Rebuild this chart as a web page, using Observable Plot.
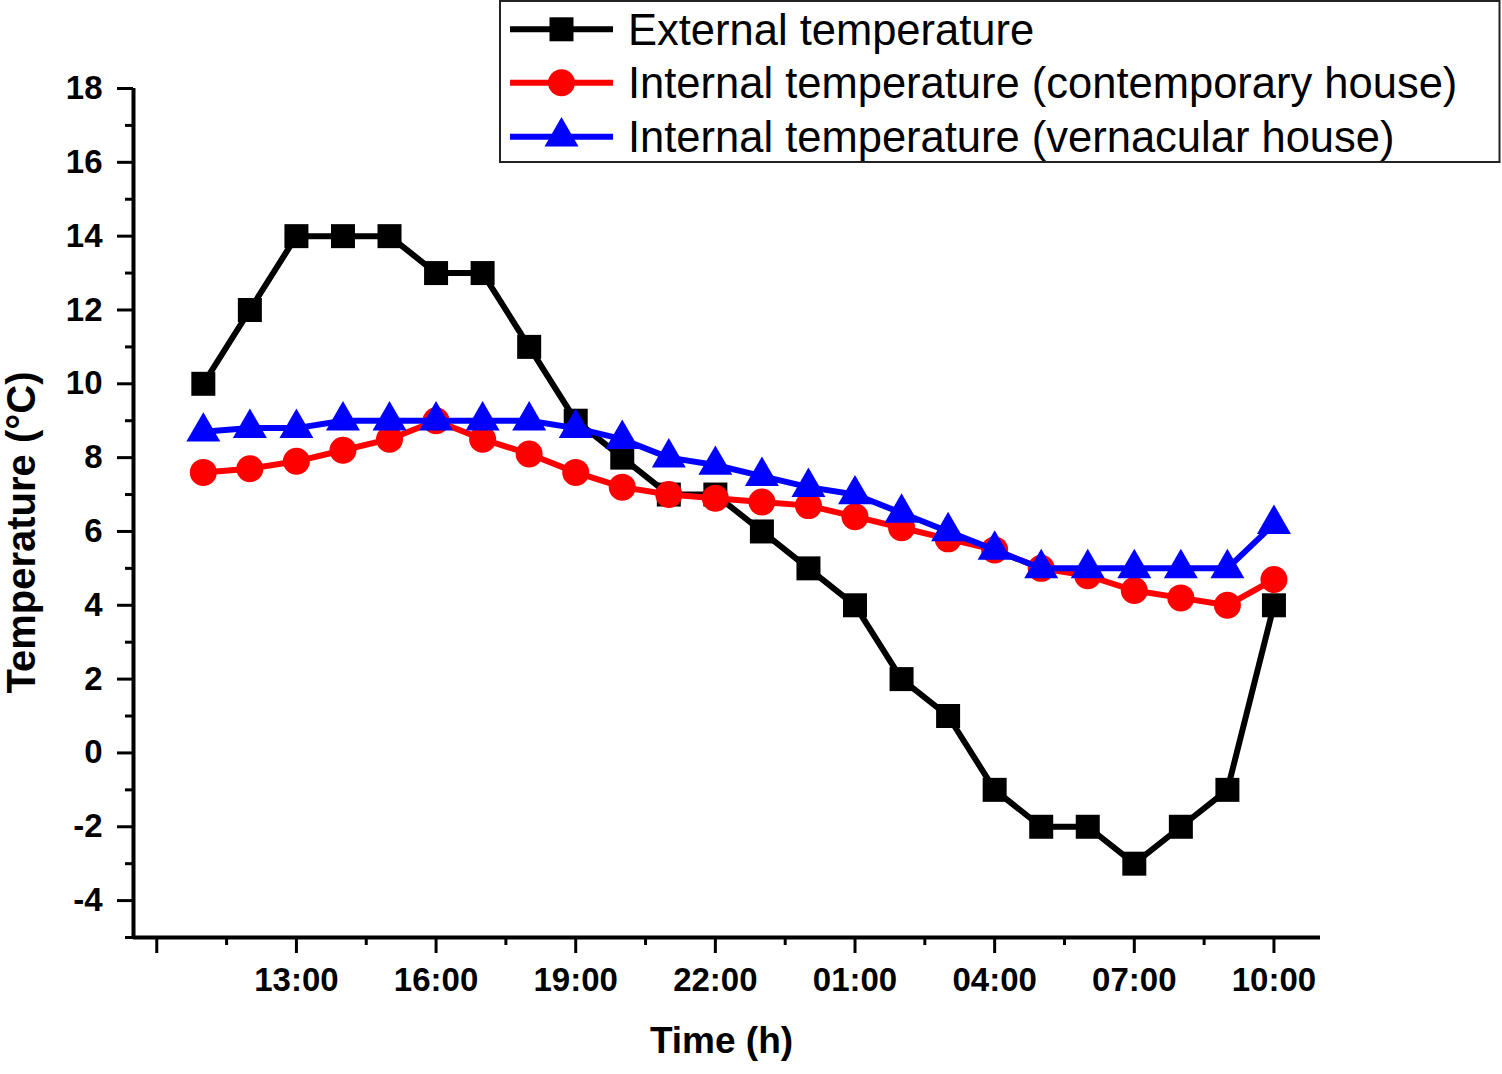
<!DOCTYPE html>
<html>
<head>
<meta charset="utf-8">
<script src="https://cdn.jsdelivr.net/npm/d3@7"></script>
<script src="https://cdn.jsdelivr.net/npm/@observablehq/plot@0.6"></script>
<style>
  html, body { margin: 0; padding: 0; background: #fff; }
  #chart { position: relative; width: 1502px; height: 1074px; }
</style>
</head>
<body>
<div id="chart"></div>
<script>
// ---- data ----
const times = ["11:00","12:00","13:00","14:00","15:00","16:00","17:00","18:00","19:00","20:00","21:00","22:00",
               "23:00","00:00","01:00","02:00","03:00","04:00","05:00","06:00","07:00","08:00","09:00","10:00"];
const external     = [10, 12, 14, 14, 14, 13, 13, 11, 9, 8, 7, 7, 6, 5, 4, 2, 1, -1, -2, -2, -3, -2, -1, 4];
const contemporary = [7.6, 7.7, 7.9, 8.2, 8.5, 9.0, 8.5, 8.1, 7.6, 7.2, 7.0, 6.9, 6.8, 6.7, 6.4, 6.1, 5.8, 5.5, 5.0, 4.8, 4.4, 4.2, 4.0, 4.7];
const vernacular   = [8.7, 8.8, 8.8, 9.0, 9.0, 9.0, 9.0, 9.0, 8.8, 8.5, 8.0, 7.8, 7.5, 7.2, 7.0, 6.5, 6.0, 5.5, 5.0, 5.0, 5.0, 5.0, 5.0, 6.2];
const seriesNames  = ["External temperature", "Internal temperature (contemporary house)", "Internal temperature (vernacular house)"];
const xTickLabels  = ["13:00","16:00","19:00","22:00","01:00","04:00","07:00","10:00"];
const yTickValues  = [-4, -2, 0, 2, 4, 6, 8, 10, 12, 14, 16, 18];

// ---- derived tables ----
const idx = times.map((_, i) => i);
const extData = idx.map(i => ({x: i, y: external[i]}));
const conData = idx.map(i => ({x: i, y: contemporary[i]}));
const verData = idx.map(i => ({x: i, y: vernacular[i]}));
const xMajor = [-1].concat(xTickLabels.map(l => times.indexOf(l)));
const xMinor = xMajor.slice(0, -1).map(v => v + 1.5);
const yMinor = yTickValues.map(v => v - 1);
const labelOf = new Map(xTickLabels.map(l => [times.indexOf(l), l]));

const LW = 6;
const font = "'Liberation Sans', Arial, sans-serif";

const plot = Plot.plot({
  width: 1502,
  height: 1074,
  marginLeft: 133,
  marginRight: 182,
  marginTop: 88,
  marginBottom: 137,
  style: {fontFamily: font, color: "#000", background: "#fff", overflow: "visible"},
  x: {domain: [-1.5, 24]},
  y: {domain: [-5, 18]},
  marks: [
    Plot.line(extData, {x: "x", y: "y", stroke: "#000", strokeWidth: LW}),
    Plot.dot(extData, {x: "x", y: "y", symbol: "square", r: 13.54, fill: "#000"}),
    Plot.line(conData, {x: "x", y: "y", stroke: "#FF0000", strokeWidth: LW}),
    Plot.dot(conData, {x: "x", y: "y", symbol: "circle", r: 13.5, fill: "#FF0000"}),
    Plot.line(verData, {x: "x", y: "y", stroke: "#0000FF", strokeWidth: LW}),
    Plot.dot(verData, {x: "x", y: "y", symbol: "triangle", r: 12.62, fill: "#0000FF"}),
    // axis lines
    Plot.ruleX([-1.5], {stroke: "#000", strokeWidth: 4}),
    Plot.ruleY([-5], {stroke: "#000", strokeWidth: 4}),
    // y axis
    Plot.axisY(yTickValues, {tickSize: 16, tickPadding: 15, fontSize: 33, fontWeight: "bold",
      strokeWidth: 3, label: null, tickFormat: d => String(d)}),
    Plot.axisY(yMinor, {tickSize: 8, strokeWidth: 3, tickFormat: () => "", label: null}),
    // x axis
    Plot.axisX(xMajor, {tickSize: 16, tickPadding: 14, fontSize: 33, fontWeight: "bold",
      strokeWidth: 3, label: null, tickFormat: d => labelOf.get(d) ?? ""}),
    Plot.axisX(xMinor, {tickSize: 8, strokeWidth: 3, tickFormat: () => "", label: null}),
    // axis titles
    Plot.text(["Time (h)"], {text: d => d, frameAnchor: "bottom", dx: -5.5, dy: 115, lineAnchor: "bottom",
      textAnchor: "middle", fontSize: 37, fontWeight: "bold", fill: "#000"}),
    Plot.text(["Temperature (°C)"], {text: d => d, frameAnchor: "left", dx: -98.4, dy: 19.5, rotate: -90,
      textAnchor: "middle", lineAnchor: "bottom", fontSize: 40, fontWeight: "bold", fill: "#000"})
  ]
});

document.getElementById("chart").appendChild(plot);

// ---- legend (drawn into the same SVG) ----
const svg = d3.select(plot);
const lg = svg.append("g").attr("font-family", font).attr("text-anchor", "start");
lg.append("rect").attr("x", 500).attr("y", 1).attr("width", 999.5).attr("height", 161)
  .attr("fill", "#fff").attr("stroke", "#222").attr("stroke-width", 2);
const colors = ["#000", "#FF0000", "#0000FF"];
const symbols = [d3.symbolSquare, d3.symbolCircle, d3.symbolTriangle];
const sizes = [Math.PI * 13.54 * 13.54, Math.PI * 13.5 * 13.5, Math.PI * 12.62 * 12.62];
const rowY = [29.3, 82.7, 136.7];
seriesNames.forEach((name, i) => {
  const g = lg.append("g");
  g.append("line").attr("x1", 510).attr("x2", 613).attr("y1", rowY[i]).attr("y2", rowY[i])
    .attr("stroke", colors[i]).attr("stroke-width", LW);
  g.append("path").attr("d", d3.symbol(symbols[i], sizes[i])())
    .attr("transform", `translate(561.5,${rowY[i]})`).attr("fill", colors[i]);
  g.append("text").attr("x", 628).attr("y", rowY[i] + 15.7).attr("font-size", 43.5)
    .attr("text-anchor", "start").attr("fill", "#000").text(name);
});
</script>
</body>
</html>
